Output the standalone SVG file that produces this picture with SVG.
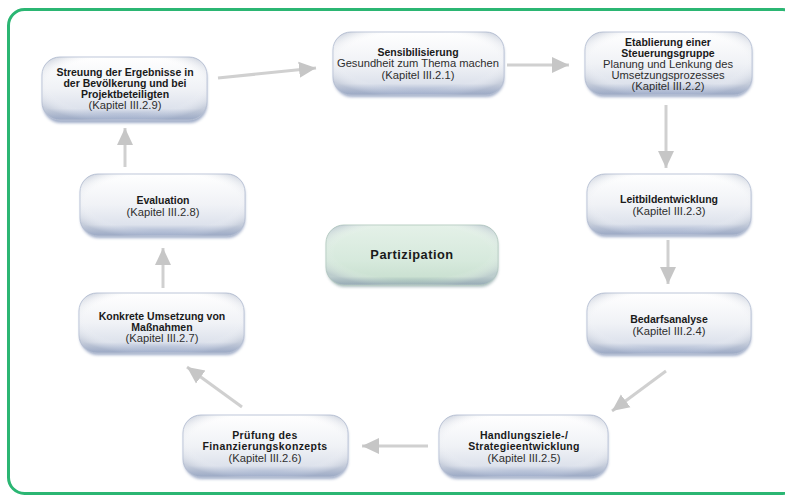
<svg xmlns="http://www.w3.org/2000/svg" width="785" height="497" viewBox="0 0 785 497">
<defs>
  <linearGradient id="boxFill" x1="0" y1="0" x2="0" y2="1">
    <stop offset="0" stop-color="#ffffff"/>
    <stop offset="0.5" stop-color="#f0f2f6"/>
    <stop offset="0.82" stop-color="#dde2ec"/>
    <stop offset="1" stop-color="#8e9fc2"/>
  </linearGradient>
  <radialGradient id="boxSide" cx="0.5" cy="0.45" r="0.6">
    <stop offset="0.75" stop-color="#ffffff" stop-opacity="0"/>
    <stop offset="1" stop-color="#a9b3c6" stop-opacity="0.45"/>
  </radialGradient>
  <linearGradient id="greenFill" x1="0" y1="0" x2="0" y2="1">
    <stop offset="0" stop-color="#e4f1e8"/>
    <stop offset="0.6" stop-color="#d6e9dc"/>
    <stop offset="0.86" stop-color="#cbe1d2"/>
    <stop offset="1" stop-color="#86a3a6"/>
  </linearGradient>
  <filter id="shadow" x="-10%" y="-10%" width="120%" height="130%">
    <feGaussianBlur stdDeviation="1.6"/>
  </filter>
  <marker id="arrow" markerUnits="userSpaceOnUse" markerWidth="20" markerHeight="20" viewBox="0 0 20 20" refX="17" refY="10" orient="auto">
    <path d="M0,2 L17,10 L0,18 Z" fill="#c6c6c6"/>
  </marker>
  <style>
    .box { fill: url(#boxFill); stroke: #bcc5d8; stroke-width: 1; }
    .side { fill: url(#boxSide); }
    .shd { fill: #5f74a3; opacity: 0.6; filter: url(#shadow); }
    .gbox { fill: url(#greenFill); stroke: #b8cfc2; stroke-width: 1; }
    .gshd { fill: #66878a; opacity: 0.55; filter: url(#shadow); }
    text { font-family: "Liberation Sans", Arial, sans-serif; font-size: 11.2px; text-anchor: middle; fill: #2e2e2e; }
    .b { font-weight: bold; font-size: 10.5px; fill: #1a1a1a; }
    .conn { stroke: #d0d0d0; stroke-width: 3; fill: none; marker-end: url(#arrow); }
  </style>
</defs>
<rect x="0" y="0" width="785" height="497" fill="#ffffff"/>
<rect x="8.5" y="9.5" width="790" height="484" rx="16" fill="#ffffff" stroke="#2bb673" stroke-width="3"/>

<g id="connectors">
  <path class="conn" d="M218,78 L316,68"/>
  <path class="conn" d="M507,65 L569,65"/>
  <path class="conn" d="M666,105 L666,168"/>
  <path class="conn" d="M668,240 L668,284"/>
  <path class="conn" d="M666,371 L612,411"/>
  <path class="conn" d="M428,446 L362,446"/>
  <path class="conn" d="M242,407 L187,367"/>
  <path class="conn" d="M163,288 L163,248"/>
  <path class="conn" d="M125,167 L125,128"/>
</g>

<g id="n1">
  <rect class="shd" x="43" y="60" width="164" height="63" rx="18"/>
  <rect class="box" x="42" y="57" width="165" height="63" rx="18"/>
  <rect class="side" x="42" y="57" width="165" height="63" rx="18"/>
  <text x="125" y="76" class="b">Streuung der Ergebnisse in</text>
  <text x="125" y="87" class="b">der Bevölkerung und bei</text>
  <text x="125" y="98" class="b">Projektbeteiligten</text>
  <text x="125" y="109">(Kapitel III.2.9)</text>
</g>

<g id="n2">
  <rect class="shd" x="334" y="35" width="170" height="62" rx="18"/>
  <rect class="box" x="333" y="32" width="171" height="63" rx="18"/>
  <rect class="side" x="333" y="32" width="171" height="63" rx="18"/>
  <text x="418" y="56" class="b">Sensibilisierung</text>
  <text x="418" y="67">Gesundheit zum Thema machen</text>
  <text x="418" y="79">(Kapitel III.2.1)</text>
</g>

<g id="n3">
  <rect class="shd" x="586" y="35" width="166" height="62" rx="18"/>
  <rect class="box" x="585" y="32" width="167" height="63" rx="18"/>
  <rect class="side" x="585" y="32" width="167" height="63" rx="18"/>
  <text x="668" y="46" class="b">Etablierung einer</text>
  <text x="668" y="57" class="b">Steuerungsgruppe</text>
  <text x="668" y="68">Planung und Lenkung des</text>
  <text x="668" y="79">Umsetzungsprozesses</text>
  <text x="668" y="90">(Kapitel III.2.2)</text>
</g>

<g id="n4">
  <rect class="shd" x="588" y="177" width="163" height="60" rx="18"/>
  <rect class="box" x="587" y="174" width="164" height="61" rx="18"/>
  <rect class="side" x="587" y="174" width="164" height="61" rx="18"/>
  <text x="669" y="203" class="b">Leitbildentwicklung</text>
  <text x="669" y="215">(Kapitel III.2.3)</text>
</g>

<g id="n5">
  <rect class="shd" x="588" y="296" width="163" height="60" rx="18"/>
  <rect class="box" x="587" y="293" width="164" height="61" rx="18"/>
  <rect class="side" x="587" y="293" width="164" height="61" rx="18"/>
  <text x="669" y="323" class="b">Bedarfsanalyse</text>
  <text x="669" y="335">(Kapitel III.2.4)</text>
</g>

<g id="n6">
  <rect class="shd" x="440" y="418" width="168" height="61" rx="18"/>
  <rect class="box" x="439" y="415" width="169" height="62" rx="18"/>
  <rect class="side" x="439" y="415" width="169" height="62" rx="18"/>
  <text x="524" y="439" class="b" letter-spacing="0.3">Handlungsziele-/</text>
  <text x="524" y="450" class="b" letter-spacing="0.3">Strategieentwicklung</text>
  <text x="524" y="462">(Kapitel III.2.5)</text>
</g>

<g id="n7">
  <rect class="shd" x="184" y="418" width="164" height="61" rx="18"/>
  <rect class="box" x="183" y="415" width="165" height="62" rx="18"/>
  <rect class="side" x="183" y="415" width="165" height="62" rx="18"/>
  <text x="265" y="439" class="b" letter-spacing="0.4">Prüfung des</text>
  <text x="265" y="450" class="b" letter-spacing="0.4">Finanzierungskonzepts</text>
  <text x="265" y="462">(Kapitel III.2.6)</text>
</g>

<g id="n8">
  <rect class="shd" x="80" y="296" width="164" height="59" rx="18"/>
  <rect class="box" x="79" y="293" width="165" height="60" rx="18"/>
  <rect class="side" x="79" y="293" width="165" height="60" rx="18"/>
  <text x="162" y="320" class="b">Konkrete Umsetzung von</text>
  <text x="162" y="331" class="b">Maßnahmen</text>
  <text x="162" y="342">(Kapitel III.2.7)</text>
</g>

<g id="n9">
  <rect class="shd" x="81" y="177" width="164" height="61" rx="18"/>
  <rect class="box" x="80" y="174" width="165" height="62" rx="18"/>
  <rect class="side" x="80" y="174" width="165" height="62" rx="18"/>
  <text x="163" y="204" class="b">Evaluation</text>
  <text x="163" y="216">(Kapitel III.2.8)</text>
</g>

<g id="n10">
  <rect class="gshd" x="327" y="228" width="171" height="59" rx="18"/>
  <rect class="gbox" x="326" y="225" width="172" height="60" rx="18"/>
  <rect class="side" x="326" y="225" width="172" height="60" rx="18"/>
  <text x="412" y="259" class="b" style="font-size:12.8px" letter-spacing="0.5">Partizipation</text>
</g>
</svg>
